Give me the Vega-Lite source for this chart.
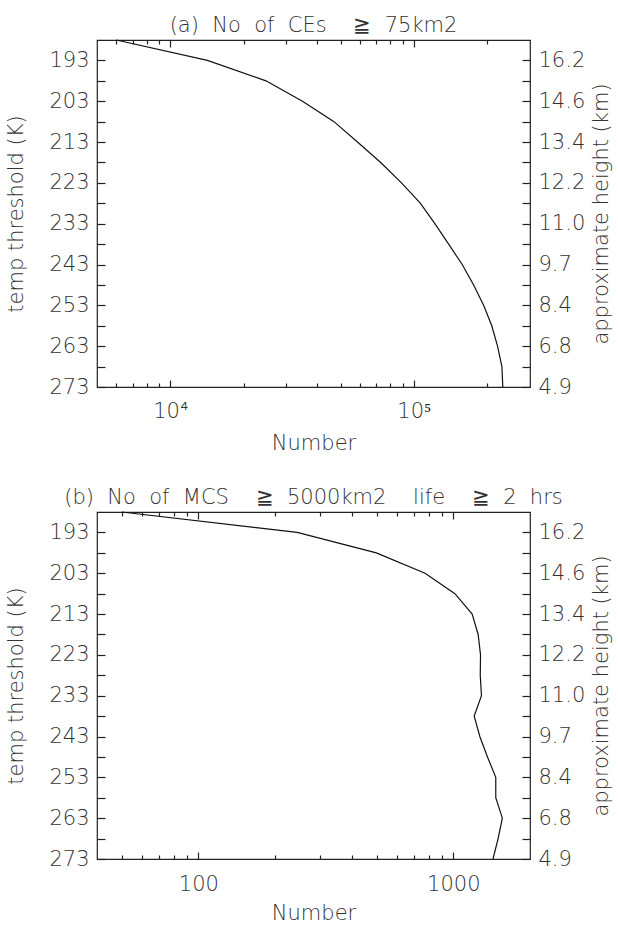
{
  "$schema": "https://vega.github.io/schema/vega-lite/v6.json",
  "background": "white",
  "padding": {"left": 5, "top": 14, "right": 0, "bottom": 0},
  "bounds": "flush",
  "spacing": 125,
  "config": {
    "font": "DejaVu Sans",
    "view": {"stroke": "#222", "strokeWidth": 1.2},
    "axis": {
      "domain": false,
      "grid": false,
      "tickColor": "#222",
      "tickWidth": 1.2,
      "labelFont": "DejaVu Sans",
      "labelFontSize": 21,
      "labelFontWeight": 200,
      "labelColor": "#333",
      "titleFont": "DejaVu Sans",
      "titleFontSize": 21,
      "titleFontWeight": 200,
      "titleColor": "#333"
    },
    "title": {
      "font": "DejaVu Sans",
      "fontSize": 21,
      "fontWeight": 200,
      "color": "#333",
      "frame": "group",
      "anchor": "middle",
      "baseline": "alphabetic",
      "offset": 2
    },
    "line": {"stroke": "#111", "strokeWidth": 1.2}
  },
  "datasets": {
    "ce": [
      {"T": 188, "N": 6000},
      {"T": 193, "N": 14200},
      {"T": 198, "N": 24700},
      {"T": 203, "N": 34900},
      {"T": 208, "N": 47000},
      {"T": 213, "N": 58700},
      {"T": 218, "N": 73100},
      {"T": 223, "N": 89000},
      {"T": 228, "N": 106500},
      {"T": 233, "N": 122000},
      {"T": 238, "N": 139000},
      {"T": 243, "N": 158000},
      {"T": 248, "N": 176000},
      {"T": 253, "N": 193500},
      {"T": 258, "N": 209000},
      {"T": 263, "N": 220700},
      {"T": 268, "N": 230000},
      {"T": 273, "N": 232000}
    ],
    "mcs": [
      {"T": 188, "N": 50},
      {"T": 193, "N": 244},
      {"T": 198, "N": 499},
      {"T": 203, "N": 775},
      {"T": 208, "N": 1015},
      {"T": 213, "N": 1186},
      {"T": 218, "N": 1252},
      {"T": 223, "N": 1279},
      {"T": 228, "N": 1276},
      {"T": 233, "N": 1290},
      {"T": 238, "N": 1208},
      {"T": 243, "N": 1271},
      {"T": 248, "N": 1362},
      {"T": 253, "N": 1468},
      {"T": 258, "N": 1468},
      {"T": 263, "N": 1558},
      {"T": 268, "N": 1499},
      {"T": 273, "N": 1432}
    ]
  },
  "vconcat": [
    {
      "title": "(a)\u00a0 No\u00a0 of\u00a0 CEs\u00a0\u00a0\u00a0 ≧\u00a0 75km2",
      "width": 433,
      "height": 347,
      "data": {"name": "ce"},
      "resolve": {"axis": {"x": "independent", "y": "independent"}},
      "layer": [
        {
          "mark": "line",
          "encoding": {
            "order": {"field": "T", "type": "quantitative"},
            "x": {"field": "N", "type": "quantitative",
              "scale": {"type": "log", "domain": [5000, 300000], "nice": false},
              "axis": {"orient": "bottom", "values": [10000, 100000], "tickSize": -7, "labelPadding": 20,
                "labelExpr": "datum.value == 10000 ? '10⁴' : '10⁵'", "title": "Number", "titlePadding": 11}},
            "y": {"field": "T", "type": "quantitative",
              "scale": {"domain": [188, 273], "reverse": true, "nice": false, "zero": false},
              "axis": {"orient": "left", "values": [193, 198, 203, 208, 213, 218, 223, 228, 233, 238, 243, 248, 253, 258, 263, 268, 273],
                "tickSize": -8, "labelPadding": 16,
                "labelExpr": "(datum.value - 193) % 10 == 0 ? datum.label : ''",
                "title": "temp threshold (K)", "titlePadding": 22}}
          }
        },
        {
          "mark": {"type": "line", "strokeOpacity": 0},
          "encoding": {
            "order": {"field": "T", "type": "quantitative"},
            "x": {"field": "N", "type": "quantitative",
              "axis": {"orient": "bottom", "values": [6000, 7000, 8000, 9000, 20000, 30000, 40000, 50000, 60000, 70000, 80000, 90000, 200000],
                "tickSize": -4, "labels": false, "title": null}},
            "y": {"field": "T", "type": "quantitative",
              "axis": {"orient": "right", "values": [193, 198, 203, 208, 213, 218, 223, 228, 233, 238, 243, 248, 253, 258, 263, 268, 273],
                "tickSize": -8, "labelPadding": 16,
                "labelExpr": "datum.value == 193 ? '16.2' : datum.value == 203 ? '14.6' : datum.value == 213 ? '13.4' : datum.value == 223 ? '12.2' : datum.value == 233 ? '11.0' : datum.value == 243 ? '9.7' : datum.value == 253 ? '8.4' : datum.value == 263 ? '6.8' : datum.value == 273 ? '4.9' : ''",
                "title": "approximate height (km)", "titleAngle": 270, "titleBaseline": "top", "titlePadding": 6}}
          }
        },
        {
          "mark": {"type": "line", "strokeOpacity": 0},
          "encoding": {
            "order": {"field": "T", "type": "quantitative"},
            "x": {"field": "N", "type": "quantitative",
              "axis": {"orient": "top", "values": [10000, 100000], "tickSize": -7, "labels": false, "title": null}},
            "y": {"field": "T", "type": "quantitative", "axis": null}
          }
        },
        {
          "mark": {"type": "line", "strokeOpacity": 0},
          "encoding": {
            "order": {"field": "T", "type": "quantitative"},
            "x": {"field": "N", "type": "quantitative",
              "axis": {"orient": "top", "values": [6000, 7000, 8000, 9000, 20000, 30000, 40000, 50000, 60000, 70000, 80000, 90000, 200000],
                "tickSize": -4, "labels": false, "title": null}},
            "y": {"field": "T", "type": "quantitative", "axis": null}
          }
        }
      ]
    },
    {
      "title": "(b)\u00a0 No\u00a0 of\u00a0 MCS\u00a0\u00a0\u00a0 ≧\u00a0 5000km2\u00a0\u00a0\u00a0 life\u00a0\u00a0\u00a0 ≧\u00a0 2\u00a0 hrs",
      "width": 433,
      "height": 347,
      "data": {"name": "mcs"},
      "resolve": {"axis": {"x": "independent", "y": "independent"}},
      "layer": [
        {
          "mark": "line",
          "encoding": {
            "order": {"field": "T", "type": "quantitative"},
            "x": {"field": "N", "type": "quantitative",
              "scale": {"type": "log", "domain": [40, 2000], "nice": false},
              "axis": {"orient": "bottom", "values": [100, 1000], "tickSize": -7, "labelPadding": 21,
                "labelExpr": "datum.value == 100 ? '100' : '1000'", "title": "Number", "titlePadding": 8}},
            "y": {"field": "T", "type": "quantitative",
              "scale": {"domain": [188, 273], "reverse": true, "nice": false, "zero": false},
              "axis": {"orient": "left", "values": [193, 198, 203, 208, 213, 218, 223, 228, 233, 238, 243, 248, 253, 258, 263, 268, 273],
                "tickSize": -8, "labelPadding": 16,
                "labelExpr": "(datum.value - 193) % 10 == 0 ? datum.label : ''",
                "title": "temp threshold (K)", "titlePadding": 22}}
          }
        },
        {
          "mark": {"type": "line", "strokeOpacity": 0},
          "encoding": {
            "order": {"field": "T", "type": "quantitative"},
            "x": {"field": "N", "type": "quantitative",
              "axis": {"orient": "bottom", "values": [50, 60, 70, 80, 90, 200, 300, 400, 500, 600, 700, 800, 900],
                "tickSize": -4, "labels": false, "title": null}},
            "y": {"field": "T", "type": "quantitative",
              "axis": {"orient": "right", "values": [193, 198, 203, 208, 213, 218, 223, 228, 233, 238, 243, 248, 253, 258, 263, 268, 273],
                "tickSize": -8, "labelPadding": 16,
                "labelExpr": "datum.value == 193 ? '16.2' : datum.value == 203 ? '14.6' : datum.value == 213 ? '13.4' : datum.value == 223 ? '12.2' : datum.value == 233 ? '11.0' : datum.value == 243 ? '9.7' : datum.value == 253 ? '8.4' : datum.value == 263 ? '6.8' : datum.value == 273 ? '4.9' : ''",
                "title": "approximate height (km)", "titleAngle": 270, "titleBaseline": "top", "titlePadding": 6}}
          }
        },
        {
          "mark": {"type": "line", "strokeOpacity": 0},
          "encoding": {
            "order": {"field": "T", "type": "quantitative"},
            "x": {"field": "N", "type": "quantitative",
              "axis": {"orient": "top", "values": [100, 1000], "tickSize": -7, "labels": false, "title": null}},
            "y": {"field": "T", "type": "quantitative", "axis": null}
          }
        },
        {
          "mark": {"type": "line", "strokeOpacity": 0},
          "encoding": {
            "order": {"field": "T", "type": "quantitative"},
            "x": {"field": "N", "type": "quantitative",
              "axis": {"orient": "top", "values": [50, 60, 70, 80, 90, 200, 300, 400, 500, 600, 700, 800, 900],
                "tickSize": -4, "labels": false, "title": null}},
            "y": {"field": "T", "type": "quantitative", "axis": null}
          }
        }
      ]
    }
  ]
}
